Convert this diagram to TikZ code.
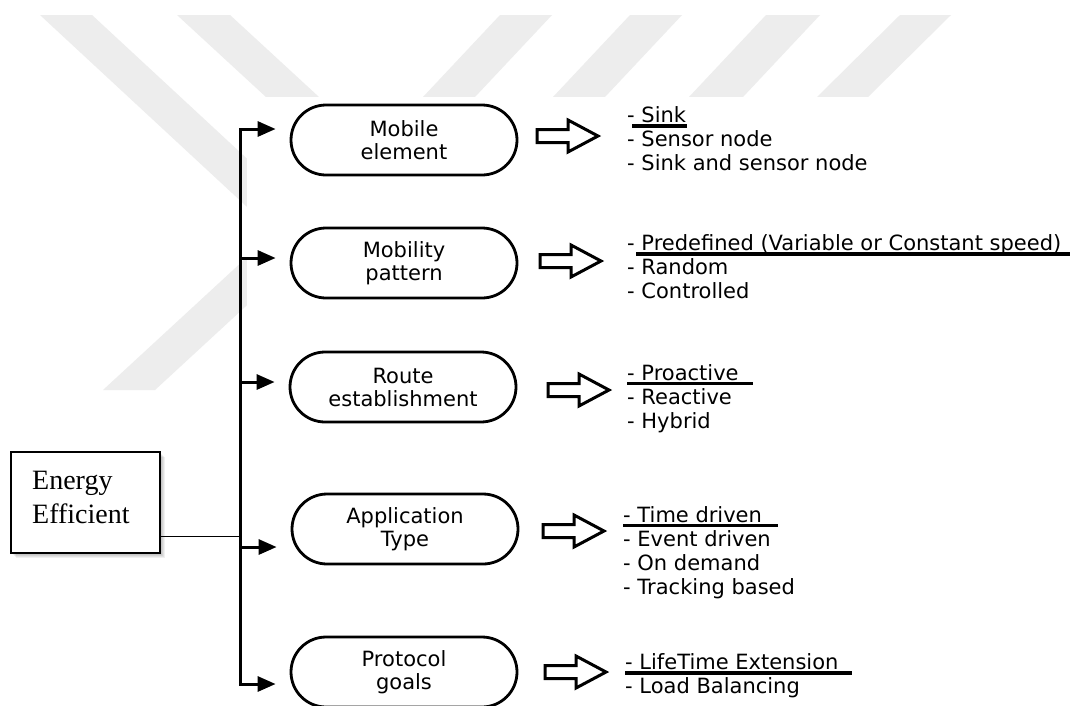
\documentclass[tikz,border=0pt]{standalone}
\usepackage{fontspec}
\setmainfont{DejaVu Sans}
\newfontfamily\boxserif{Liberation Serif}
\usetikzlibrary{arrows.meta,calc}
\definecolor{wmgray}{RGB}{237,237,237}

\tikzset{
  pill/.style={draw, line width=2.8pt, fill=white, rounded corners=35pt,
    minimum width=226pt, minimum height=70pt, align=center, inner sep=0pt,
    font=\fontsize{21}{23}\selectfont},
  item/.style={anchor=base west, inner sep=0pt, font=\fontsize{21}{24}\selectfont},
  branch/.style={line width=3pt, -{Triangle[length=18pt,width=15pt]}, shorten >=14pt},
  trunk/.style={line width=3pt, line cap=rect},
  feed/.style={line width=1pt},
  uline/.style={line width=3.5pt},
  wm/.style={fill=wmgray, draw=none},
  hollow/.pic={
    \draw[line width=3pt, line join=miter, fill=white]
      (0,-6.5) -- (31,-6.5) -- (31,-16) -- (61,0) -- (31,16) -- (31,6.5) -- (0,6.5) -- cycle;
  },
}

\begin{document}
\begin{tikzpicture}[x=1pt,y=-1pt]
\useasboundingbox (0,0) rectangle (1073,705);
\fill[white] (0,0) rectangle (1073,705);

% faint background stripes
\fill[wm] (40,15) -- (92,15) -- (421,320) -- (369,320) -- cycle;
\fill[wm] (309,200) -- (361,200) -- (155,390) -- (103,390) -- cycle;
\fill[wm] (177,15) -- (230,15) -- (319,97) -- (266,97) -- cycle;
\fill[wm] (500,15) -- (552,15) -- (475,97) -- (423,97) -- cycle;
\fill[wm] (630,15) -- (682,15) -- (605,97) -- (553,97) -- cycle;
\fill[wm] (766,15) -- (820,15) -- (743,97) -- (689,97) -- cycle;
\fill[wm] (900,15) -- (951,15) -- (868,97) -- (817,97) -- cycle;
% white sheet of the chart
\fill[white] (247,97) rectangle (1073,705);

% root box with a soft shadow
\foreach \s in {1,...,6}
  \fill[black, opacity=0.06] (10+\s,451+\s) rectangle (159+\s,552+\s);
\node[draw, line width=2pt, fill=white, anchor=north west,
      minimum width=149pt, minimum height=101pt, inner sep=0pt] (ee) at (10,451) {};
\node[anchor=base west, inner sep=0pt, font=\boxserif\fontsize{28}{34}\selectfont] (ee1) at (32,489) {Energy};
\node[anchor=base west, inner sep=0pt, font=\boxserif\fontsize{28}{34}\selectfont] (ee2) at (32,523) {Efficient};

% category boxes
\node[pill] (p1) at (404,140) {Mobile\\element};
\node[pill] (p2) at (404,263) {Mobility\\pattern};
\node[pill] (p3) at (403,387) {Route\\establishment};
\node[pill] (p4) at (405,529) {Application\\Type};
\node[pill] (p5) at (404,672) {Protocol\\goals};

% trunk and branches
\coordinate (j1) at (240,129);
\coordinate (j2) at (240,258);
\coordinate (j3) at (240,382);
\coordinate (j4) at (240,547);
\coordinate (j5) at (240,684);
\coordinate (jf) at (240,536);
\draw[trunk] (j1) -- (j5);
\draw[feed] (jf -| ee.east) -- (jf);
\draw[branch] (j1) -- (j1 -| p1.west);
\draw[branch] (j2) -- (j2 -| p2.west);
\draw[branch] (j3) -- (j3 -| p3.west);
\draw[branch] (j4) -- (j4 -| p4.west);
\draw[branch] (j5) -- (j5 -| p5.west);

% block arrows
\pic at (537,136) {hollow};
\pic at (540,261) {hollow};
\pic at (548,390) {hollow};
\pic at (543,531) {hollow};
\pic at (545,672) {hollow};

% Mobile element
\node[item] (a1) at (627,122) {- Sink};
\node[item] (a2) at (627,146) {- Sensor node};
\node[item] (a3) at (627,170) {- Sink and sensor node};
\draw[uline] ($(a1.base west)+(5,4)$) -- ++(55,0);

% Mobility pattern
\node[item] (b1) at (627,250) {- Predefined (Variable or Constant speed)};
\node[item] (b2) at (627,274) {- Random};
\node[item] (b3) at (627,298) {- Controlled};
\draw[uline] ($(b1.base west)+(9,4)$) -- ++(434,0);

% Route establishment
\node[item] (c1) at (627,380) {- Proactive};
\node[item] (c2) at (627,404) {- Reactive};
\node[item] (c3) at (627,428) {- Hybrid};
\draw[uline] ($(c1.base west)+(0,3.5)$) -- ++(126,0);

% Application type
\node[item] (d1) at (623,522) {- Time driven};
\node[item] (d2) at (623,546) {- Event driven};
\node[item] (d3) at (623,570) {- On demand};
\node[item] (d4) at (623,594) {- Tracking based};
\draw[uline] ($(d1.base west)+(0,3.5)$) -- ++(155,0);

% Protocol goals
\node[item] (e1) at (625,669) {- LifeTime Extension};
\node[item] (e2) at (625,693) {- Load Balancing};
\draw[uline] ($(e1.base west)+(0,4)$) -- ++(227,0);
\end{tikzpicture}
\end{document}
